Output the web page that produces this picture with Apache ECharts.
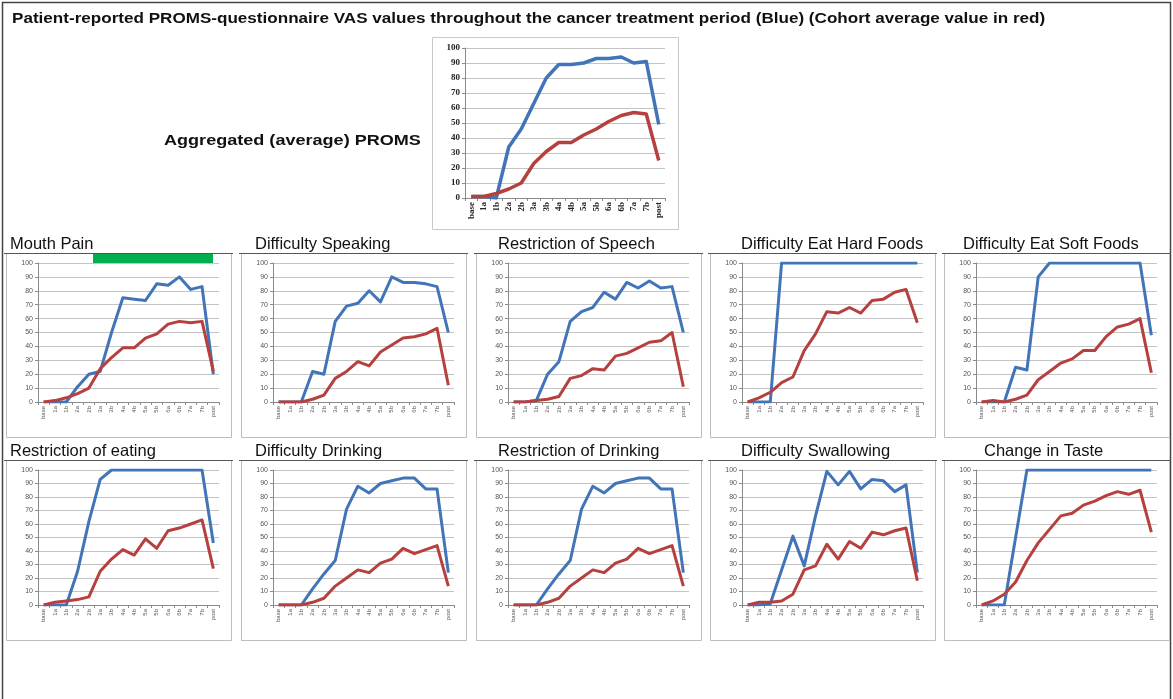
<!DOCTYPE html>
<html>
<head>
<meta charset="utf-8">
<script src="https://cdn.jsdelivr.net/npm/echarts@6/dist/echarts.min.js"></script>
<style>
  html, body { margin: 0; padding: 0; background: #fff; }
  #main { width: 1173px; height: 699px; }
</style>
</head>
<body>
<div id="main"></div>
<script>
const categories = ["base", "1a", "1b", "2a", "2b", "3a", "3b", "4a", "4b", "5a", "5b", "6a", "6b", "7a", "7b", "post"];
const yTicks = { min: 0, max: 100, step: 10 };

// aggregated (average) PROMS
const aggregatedBlue = [1, 1, 0, 34, 46, 63, 80, 89, 89, 90, 93, 93, 94, 90, 91, 49];
const aggregatedRed = [1, 1, 3, 6, 10, 23, 31, 37, 37, 42, 46, 51, 55, 57, 56, 25];

// row 1
const mouthPainBlue = [0, 0, 0, 11, 20, 22, 50, 75, 74, 73, 85, 84, 90, 81, 83, 20];
const mouthPainRed = [0, 1, 3, 6, 10, 24, 32, 39, 39, 46, 49, 56, 58, 57, 58, 22];
const speakingBlue = [0, 0, 0, 22, 20, 58, 69, 71, 80, 72, 90, 86, 86, 85, 83, 50];
const speakingRed = [0, 0, 0, 2, 5, 17, 22, 29, 26, 36, 41, 46, 47, 49, 53, 12];
const speechBlue = [0, 0, 1, 20, 29, 58, 65, 68, 79, 74, 86, 82, 87, 82, 83, 50];
const speechRed = [0, 0, 1, 2, 4, 17, 19, 24, 23, 33, 35, 39, 43, 44, 50, 11];
const hardFoodsBlue = [0, 0, 0, 100, 100, 100, 100, 100, 100, 100, 100, 100, 100, 100, 100, 100];
const hardFoodsRed = [0, 3, 7, 14, 18, 37, 49, 65, 64, 68, 64, 73, 74, 79, 81, 57];
const softFoodsBlue = [0, 0, 0, 25, 23, 90, 100, 100, 100, 100, 100, 100, 100, 100, 100, 48];
const softFoodsRed = [0, 1, 0, 2, 5, 16, 22, 28, 31, 37, 37, 47, 54, 56, 60, 21];

// row 2
const eatingBlue = [0, 0, 0, 25, 62, 93, 100, 100, 100, 100, 100, 100, 100, 100, 100, 46];
const eatingRed = [0, 2, 3, 4, 6, 25, 34, 41, 37, 49, 42, 55, 57, 60, 63, 27];
const drinkingBlue = [0, 0, 0, 12, 23, 33, 71, 88, 83, 90, 92, 94, 94, 86, 86, 24];
const drinkingRed = [0, 0, 0, 2, 5, 14, 20, 26, 24, 31, 34, 42, 38, 41, 44, 14];
const restrictDrinkBlue = [0, 0, 0, 12, 23, 33, 71, 88, 83, 90, 92, 94, 94, 86, 86, 24];
const restrictDrinkRed = [0, 0, 0, 2, 5, 14, 20, 26, 24, 31, 34, 42, 38, 41, 44, 14];
const swallowingBlue = [0, 0, 1, 26, 51, 29, 66, 99, 89, 99, 86, 93, 92, 84, 89, 24];
const swallowingRed = [0, 2, 2, 3, 8, 26, 29, 45, 34, 47, 42, 54, 52, 55, 57, 18];
const tasteBlue = [0, 0, 0, 50, 100, 100, 100, 100, 100, 100, 100, 100, 100, 100, 100, 100];
const tasteRed = [0, 3, 8, 17, 33, 46, 56, 66, 68, 74, 77, 81, 84, 82, 85, 54];

const panelTitles = [
  "Mouth Pain", "Difficulty Speaking", "Restriction of Speech", "Difficulty Eat Hard Foods", "Difficulty Eat Soft Foods",
  "Restriction of eating", "Difficulty Drinking", "Restriction of Drinking", "Difficulty Swallowing", "Change in Taste"
];
const panelBlue = [mouthPainBlue, speakingBlue, speechBlue, hardFoodsBlue, softFoodsBlue,
  eatingBlue, drinkingBlue, restrictDrinkBlue, swallowingBlue, tasteBlue];
const panelRed = [mouthPainRed, speakingRed, speechRed, hardFoodsRed, softFoodsRed,
  eatingRed, drinkingRed, restrictDrinkRed, swallowingRed, tasteRed];

const mainTitle = "Patient-reported PROMS-questionnaire VAS values throughout the cancer treatment period (Blue) (Cohort average value in red)";
const aggregatedLabel = "Aggregated (average) PROMS";

// layout
const BLUE = "#4274b8";
const RED = "#b5403d";
const colLeft = [6, 241, 476, 710, 944];
const rowTop = [253, 460];
const rowHeight = [184, 180];
const boxWidth = 225;
const titleX = [[10, 255, 498, 741, 963], [10, 255, 498, 741, 984]];
const titleY = [244, 451];

const chart = echarts.init(document.getElementById("main"));

const grids = [];
const xAxes = [];
const yAxes = [];
const series = [];
const graphics = [];

// outer frame
graphics.push({
  type: "rect", shape: { x: 2.5, y: 2.5, width: 1168, height: 720 },
  style: { fill: "none", stroke: "#444", lineWidth: 1.5 }
});
// the scanned page is a little stretched sideways, so the bold labels get scaleX
graphics.push({
  type: "text", x: 12, y: 19, scaleX: 1.22,
  style: { text: mainTitle, verticalAlign: "middle", fill: "#111",
    font: "bold 14px 'Liberation Sans', Arial, sans-serif" }
});
graphics.push({
  type: "text", x: 164, y: 141, scaleX: 1.29,
  style: { text: aggregatedLabel, verticalAlign: "middle", fill: "#111",
    font: "bold 14px 'Liberation Sans', Arial, sans-serif" }
});
graphics.push({
  type: "rect", shape: { x: 432.5, y: 37.5, width: 246, height: 192 },
  style: { fill: "none", stroke: "#c8c8c8", lineWidth: 1 }
});

function addChart(gridBox, blue, red, big) {
  const idx = grids.length;
  grids.push(Object.assign({ containLabel: false }, gridBox));
  const labelFont = big
    ? { fontFamily: "'Liberation Serif', serif", fontWeight: "bold", color: "#222" }
    : { fontFamily: "'Liberation Sans', Arial, sans-serif", color: "#555" };
  xAxes.push({
    gridIndex: idx, type: "category", data: categories, boundaryGap: true,
    axisLine: { lineStyle: { color: "#8a8a8a", width: 1 } },
    axisTick: { show: true, length: 3, lineStyle: { color: "#8a8a8a" } },
    axisLabel: Object.assign({ rotate: 90, interval: 0, fontSize: big ? 9 : 6, margin: 4 }, labelFont),
    splitLine: { show: false }
  });
  yAxes.push({
    gridIndex: idx, type: "value", min: yTicks.min, max: yTicks.max, interval: yTicks.step,
    axisLine: { show: true, lineStyle: { color: "#8a8a8a" } },
    axisTick: { show: true, length: 3, lineStyle: { color: "#8a8a8a" } },
    axisLabel: Object.assign({ fontSize: big ? 9 : 7, margin: 5 }, labelFont),
    splitLine: { lineStyle: { color: "#c4c4c4", width: 1 } }
  });
  series.push({
    type: "line", xAxisIndex: idx, yAxisIndex: idx, data: blue, symbol: "none",
    lineStyle: { color: BLUE, width: big ? 3.5 : 3, join: "round" }, z: 3
  });
  series.push({
    type: "line", xAxisIndex: idx, yAxisIndex: idx, data: red, symbol: "none",
    lineStyle: { color: RED, width: big ? 3.5 : 3, join: "round" }, z: 4
  });
}

addChart({ left: 465, top: 48, width: 200, height: 150 }, aggregatedBlue, aggregatedRed, true);

panelTitles.forEach((title, i) => {
  const r = Math.floor(i / 5);
  const c = i % 5;
  const bx = colLeft[c];
  const by = rowTop[r];
  graphics.push({
    type: "rect", shape: { x: bx + 0.5, y: by + 0.5, width: boxWidth, height: rowHeight[r] },
    style: { fill: "none", stroke: "#bdbdbd", lineWidth: 1 }
  });
  graphics.push({
    type: "line", shape: { x1: bx - 2, y1: by + 0.5, x2: bx + boxWidth + 2, y2: by + 0.5 },
    style: { stroke: "#555", lineWidth: 1 }
  });
  graphics.push({
    type: "text",
    style: { x: titleX[r][c], y: titleY[r], text: title, verticalAlign: "middle", fill: "#111",
      font: "16.5px 'Liberation Sans', Arial, sans-serif" }
  });
  addChart({ left: bx + 32, top: by + 10, width: 181, height: rowHeight[r] - 45 }, panelBlue[i], panelRed[i], false);
});

// green highlight over Mouth Pain
graphics.push({
  type: "rect", shape: { x: 93, y: 254, width: 120, height: 9 },
  style: { fill: "#00b050" }
});

chart.setOption({
  animation: false,
  backgroundColor: "#fff",
  graphic: graphics,
  grid: grids,
  xAxis: xAxes,
  yAxis: yAxes,
  series: series
});
</script>
</body>
</html>
